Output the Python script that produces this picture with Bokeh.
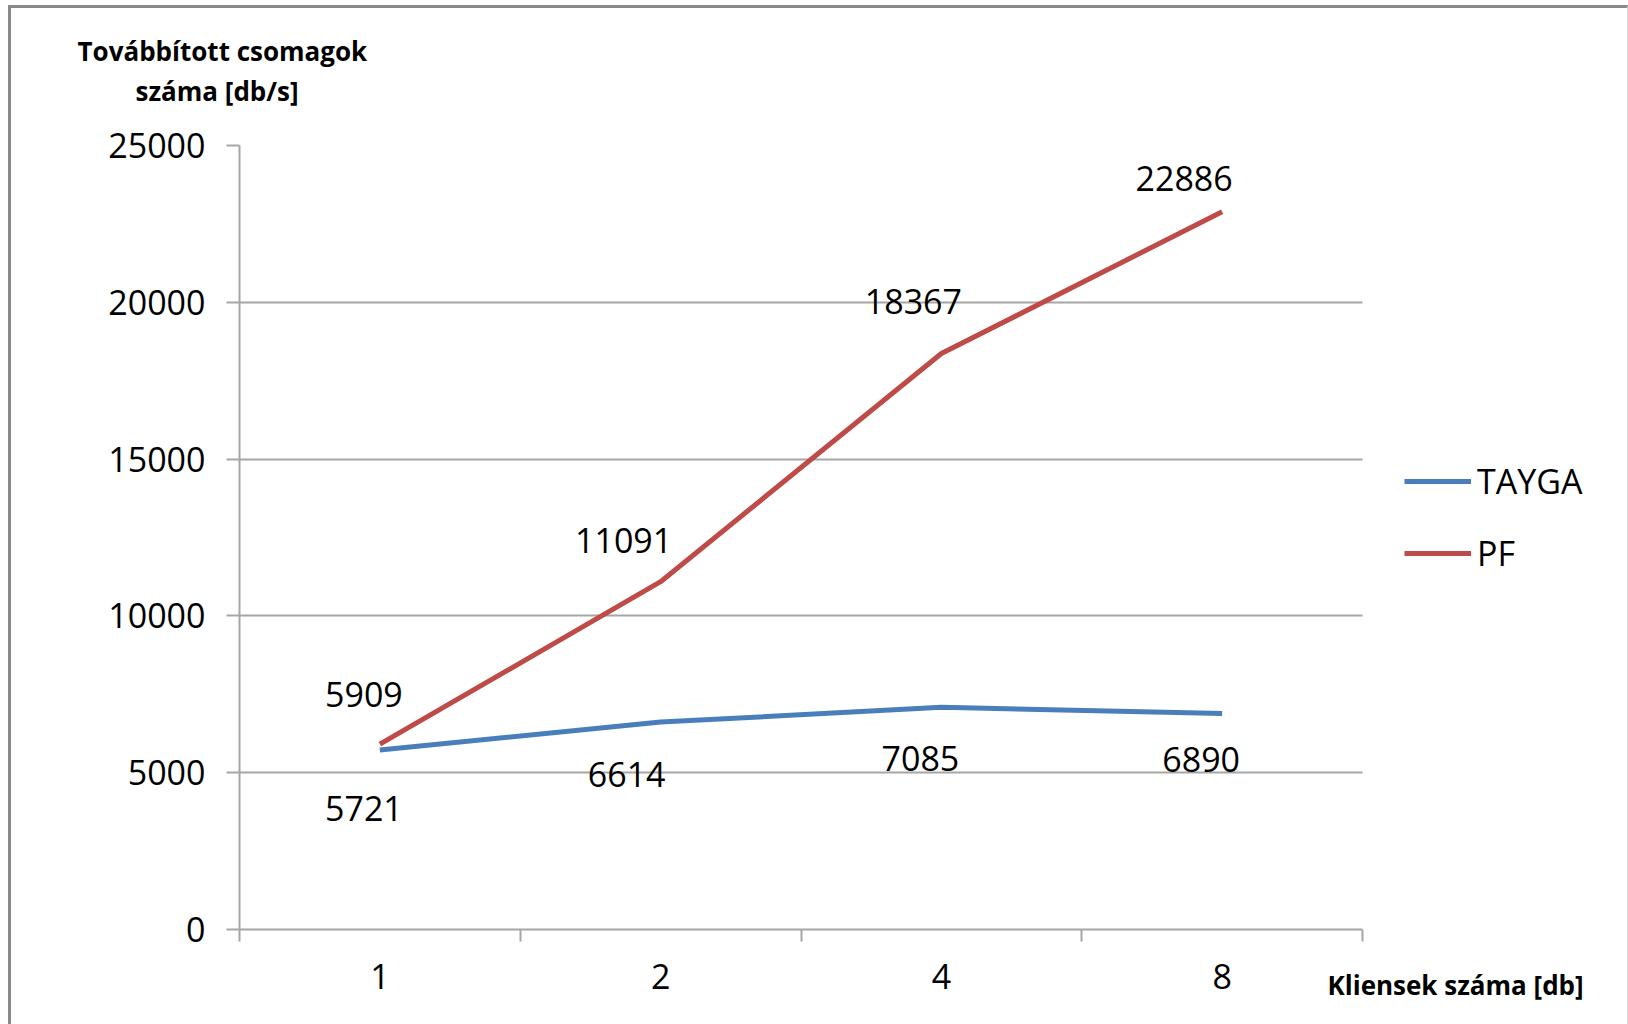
from bokeh.plotting import figure
from bokeh.models import (ColumnDataSource, Range1d, FixedTicker, Legend, LegendItem,
                          Title, InlineStyleSheet)
from bokeh.embed import file_html
from bokeh.resources import INLINE

# ---- data ----
categories = ["1", "2", "4", "8"]
tayga = [5721, 6614, 7085, 6890]
pf = [5909, 11091, 18367, 22886]
y_ticks = [0, 5000, 10000, 15000, 20000, 25000]
y_title = ["Továbbított csomagok", "száma [db/s]"]
x_title = "Kliensek száma [db]"
series_names = ["TAYGA", "PF"]

# ---- layout / style (label offsets in pixels) ----
pf_dx = [-16, -37, -28, -38]
pf_dy = [-50, -41, -52, -33]
tayga_dx = [-16, -34, -21, -21]
tayga_dy = [58, 52, 51, 46]

FONT = "Open Sans"
BLUE = "#4A7EBB"
RED = "#BE4B48"
GRAY = "#a6a6a6"

xs = list(range(1, len(categories) + 1))
n = len(categories)

W, H = 1628, 1024
L, T, B = 239, 145, 929
BAND = 280.75  # px per category
x_end = 0.5 + (W - L) / BAND

p = figure(width=W, height=H, output_backend="svg", toolbar_location=None, title=None,
           x_range=Range1d(0.5, x_end), y_range=Range1d(0, 25000),
           min_border_left=L, min_border_right=0, min_border_top=T, min_border_bottom=H - B)
p.outline_line_color = None
p.background_fill_color = "white"
p.border_fill_color = "white"

# grid
p.xgrid.visible = False
p.ygrid.ticker = FixedTicker(ticks=y_ticks)
p.ygrid.grid_line_color = GRAY
p.ygrid.grid_line_width = 2
p.ygrid.cross_bounds = (0.5, n + 0.5)

# y axis
p.yaxis.ticker = FixedTicker(ticks=y_ticks)
p.yaxis.axis_line_color = GRAY
p.yaxis.axis_line_width = 2
p.yaxis.major_tick_line_color = GRAY
p.yaxis.major_tick_line_width = 2
p.yaxis.major_tick_out = 13
p.yaxis.major_tick_in = 0
p.yaxis.minor_tick_line_color = None
p.yaxis.major_label_standoff = 21
p.yaxis.major_label_text_font = FONT
p.yaxis.major_label_text_font_size = "34px"
p.yaxis.major_label_text_color = "black"

# x axis: labels at centers, ticks at category boundaries
p.xaxis.bounds = (0.5, n + 0.5)
p.xaxis.ticker = FixedTicker(ticks=xs, minor_ticks=[x - 0.5 for x in xs] + [xs[-1] + 0.5])
p.xaxis.major_label_overrides = {x: c for x, c in zip(xs, categories)}
p.xaxis.axis_line_color = GRAY
p.xaxis.axis_line_width = 2
p.xaxis.major_tick_line_color = None
p.xaxis.major_tick_out = 0
p.xaxis.major_tick_in = 0
p.xaxis.minor_tick_line_color = GRAY
p.xaxis.minor_tick_line_width = 2
p.xaxis.minor_tick_out = 12
p.xaxis.minor_tick_in = 0
p.xaxis.major_label_standoff = 22
p.xaxis.major_label_text_font = FONT
p.xaxis.major_label_text_font_size = "34px"
p.xaxis.major_label_text_color = "black"

# lines
r_t = p.line(xs, tayga, line_color=BLUE, line_width=5)
r_p = p.line(xs, pf, line_color=RED, line_width=5)

# data labels
src = ColumnDataSource(dict(
    x=xs + xs,
    y=tayga + pf,
    t=[str(v) for v in tayga + pf],
    dx=tayga_dx + pf_dx,
    dy=tayga_dy + pf_dy,
))
p.text(x="x", y="y", text="t", x_offset="dx", y_offset="dy", source=src,
       text_font={"value": FONT}, text_font_size={"value": "34px"},
       text_color="black", text_align="center", text_baseline="middle")

# legend
legend = Legend(items=[LegendItem(label=series_names[0], renderers=[r_t]),
                       LegendItem(label=series_names[1], renderers=[r_p])],
                location=(1404 - L, B - 576))
legend.label_text_font = FONT
legend.label_text_font_size = "34px"
legend.label_text_color = "black"
legend.glyph_width = 67
legend.glyph_height = 40
legend.label_height = 40
legend.label_standoff = 6
legend.spacing = 26
legend.padding = 0
legend.margin = 0
legend.border_line_alpha = 0
legend.background_fill_alpha = 0
p.add_layout(legend)

# y title (two lines above the frame); first added is closest to frame
p.add_layout(Title(text=y_title[1], align="left", offset=135 - L, standoff=74,
                   text_font=FONT, text_font_size="26px", text_font_style="bold",
                   text_color="black"), "above")
p.add_layout(Title(text=y_title[0], align="left", offset=77 - L, standoff=-70,
                   text_font=FONT, text_font_size="26px", text_font_style="bold",
                   text_color="black"), "above")

# x title (below the axis, pulled up next to the tick labels)
p.add_layout(Title(text=x_title, align="left", offset=1327 - L, standoff=-50,
                   vertical_align="top",
                   text_font=FONT, text_font_size="26px", text_font_style="bold",
                   text_color="black"), "below")

# outer chart border (left, top and faint right edge)
p.stylesheets = [InlineStyleSheet(css="""
:host { position: relative; }
:host::after {
  content: ""; position: absolute; left: 8px; top: 5px; right: 0px; bottom: 0px;
  border-left: 3px solid #8a8a8a; border-top: 3px solid #8a8a8a;
  border-right: 1px solid #dcdcdc; pointer-events: none;
}
""")]

open("out.html", "w").write(file_html(p, INLINE))
